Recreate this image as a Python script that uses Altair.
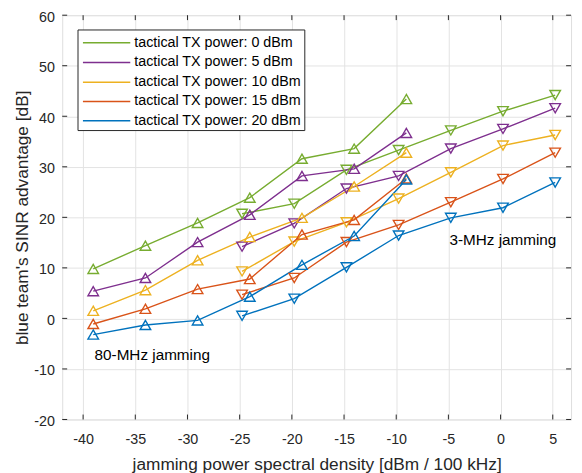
import altair as alt
import pandas as pd

# ---- data ----
powers = ["0", "5", "10", "15", "20"]
legend_labels = [f"tactical TX power: {p} dBm" for p in powers]
colors = ["#77AC30", "#7E2F8E", "#EDB120", "#D95319", "#0072BD"]

x_80mhz = [-39.03, -34.03, -29.03, -24.03, -19.03, -14.03, -9.03]
x_3mhz = [-24.77, -19.77, -14.77, -9.77, -4.77, 0.23, 5.23]

y_80mhz = {
    "0": [9.8, 14.4, 18.9, 23.9, 31.6, 33.6, 43.4],
    "5": [5.4, 8.0, 15.1, 20.5, 28.2, 29.6, 36.7],
    "10": [1.5, 5.6, 11.5, 16.1, 19.9, 26.1, 32.8],
    "15": [-1.1, 1.9, 5.8, 7.8, 16.6, 19.5, 27.7],
    "20": [-3.2, -1.3, -0.4, 4.3, 10.6, 16.3, 27.5],
}
y_3mhz = {
    "0": [20.7, 22.7, 29.4, 33.3, 37.2, 41.0, 44.2],
    "5": [14.2, 18.8, 25.7, 28.2, 33.6, 37.5, 41.6],
    "10": [9.3, 15.2, 19.0, 23.7, 28.9, 34.2, 36.3],
    "15": [4.7, 8.0, 15.1, 18.5, 23.0, 27.6, 32.8],
    "20": [0.5, 3.9, 10.1, 16.4, 19.9, 21.9, 26.9],
}

x_ticks = [-40, -35, -30, -25, -20, -15, -10, -5, 0, 5]
y_ticks = [-20, -10, 0, 10, 20, 30, 40, 50, 60]
x_domain = [-42, 6.75]
y_domain = [-20, 60]

annotations = ["80-MHz jamming", "3-MHz jamming"]
annot_x = [-38.9, -4.9]
annot_y = [-7.3, 15.6]

# ---- build tables ----
rows = []
for p in powers:
    for x, y in zip(x_80mhz, y_80mhz[p]):
        rows.append({"power": p, "jam": "80", "x": x, "y": y})
    for x, y in zip(x_3mhz, y_3mhz[p]):
        rows.append({"power": p, "jam": "3", "x": x, "y": y})
df = pd.DataFrame(rows)

W, H = 516, 410
FONT = "Liberation Sans"
AX = "#262626"
LBL = "'' + datum.value"

xs = alt.Scale(domain=x_domain, nice=False, zero=False)
ys = alt.Scale(domain=y_domain, nice=False, zero=False)
cscale = alt.Scale(domain=powers, range=colors)

base = alt.Chart(df)

lines = base.mark_line(strokeWidth=1.4, clip=True).encode(
    x=alt.X("x:Q", scale=xs,
            axis=alt.Axis(values=x_ticks, title="jamming power spectral density [dBm / 100 kHz]",
                          labelExpr=LBL,
                          grid=True, gridColor="#e3e3e3", domain=False, ticks=False,
                          labelFontSize=14.5, labelPadding=13, titleFontSize=17.5,
                          titleFontWeight="normal", titlePadding=10, labelColor=AX,
                          titleColor=AX, labelFont=FONT, titleFont=FONT)),
    y=alt.Y("y:Q", scale=ys,
            axis=alt.Axis(values=y_ticks, title="blue team's SINR advantage [dB]",
                          labelExpr=LBL, labelOffset=2,
                          grid=True, gridColor="#e3e3e3", domain=False, ticks=False,
                          labelFontSize=14.5, labelPadding=8, titleFontSize=17.5,
                          titleFontWeight="normal", titlePadding=2, labelColor=AX,
                          titleColor=AX, labelFont=FONT, titleFont=FONT)),
    color=alt.Color("power:N", scale=cscale, legend=None),
    detail="jam:N",
    order=alt.Order("x:Q"),
)

points = base.mark_point(filled=False, strokeWidth=1.4, size=115, opacity=1).encode(
    x=alt.X("x:Q", scale=xs),
    y=alt.Y("y:Q", scale=ys),
    color=alt.Color("power:N", scale=cscale, legend=None),
    shape=alt.Shape("jam:N", scale=alt.Scale(domain=["80", "3"],
                                             range=["triangle-up", "triangle-down"]),
                    legend=None),
)

# inward ticks (MATLAB style)
xt = pd.DataFrame({"t": x_ticks})
yt = pd.DataFrame({"t": y_ticks})
tick_x_bottom = alt.Chart(xt).mark_rule(color=AX, strokeWidth=1).encode(
    x=alt.X("t:Q", scale=xs), y=alt.value(H), y2=alt.value(H - 5))
tick_x_top = alt.Chart(xt).mark_rule(color=AX, strokeWidth=1).encode(
    x=alt.X("t:Q", scale=xs), y=alt.value(0), y2=alt.value(5))
tick_y_left = alt.Chart(yt).mark_rule(color=AX, strokeWidth=1).encode(
    y=alt.Y("t:Q", scale=ys), x=alt.value(0), x2=alt.value(5))
tick_y_right = alt.Chart(yt).mark_rule(color=AX, strokeWidth=1).encode(
    y=alt.Y("t:Q", scale=ys), x=alt.value(W), x2=alt.value(W - 5))

# annotations
ann_df = pd.DataFrame({"label": annotations, "x": annot_x, "y": annot_y})
ann = alt.Chart(ann_df).mark_text(align="left", baseline="middle", fontSize=15.5,
                                   font=FONT, color="#000000").encode(
    x=alt.X("x:Q", scale=xs), y=alt.Y("y:Q", scale=ys), text="label:N")

# manual legend
lg_left, lg_top, lg_right, lg_bottom = 16, 15, 246, 117
row_y = [28, 48, 68, 87.5, 107]
leg_box = alt.Chart(pd.DataFrame({"a": [0]})).mark_rect(
    fill="white", stroke="#262626", strokeWidth=1).encode(
    x=alt.value(lg_left), x2=alt.value(lg_right), y=alt.value(lg_top), y2=alt.value(lg_bottom))
leg_df = pd.DataFrame({"power": powers, "label": legend_labels, "ry": row_y})
leg_lines = alt.Chart(leg_df).mark_rule(strokeWidth=1.4).encode(
    x=alt.value(21), x2=alt.value(69), y=alt.Y("ry:Q", scale=None),
    color=alt.Color("power:N", scale=cscale, legend=None))
leg_text = alt.Chart(leg_df).mark_text(align="left", baseline="middle", fontSize=14.5,
                                       font=FONT, color="#000000").encode(
    x=alt.value(73), y=alt.Y("ry:Q", scale=None), text="label:N")

chart = alt.layer(
    lines, points, tick_x_bottom, tick_x_top, tick_y_left, tick_y_right,
    ann, leg_box, leg_lines, leg_text
).resolve_scale(y="shared").properties(
    width=W, height=H,
    padding={"left": 55, "top": 4, "right": 3, "bottom": 52},
    autosize=alt.AutoSizeParams(type="none"),
).configure_view(stroke=AX, strokeWidth=1).configure(background="white")

chart.save("out.html", embed_options={"renderer": "svg", "actions": False})
